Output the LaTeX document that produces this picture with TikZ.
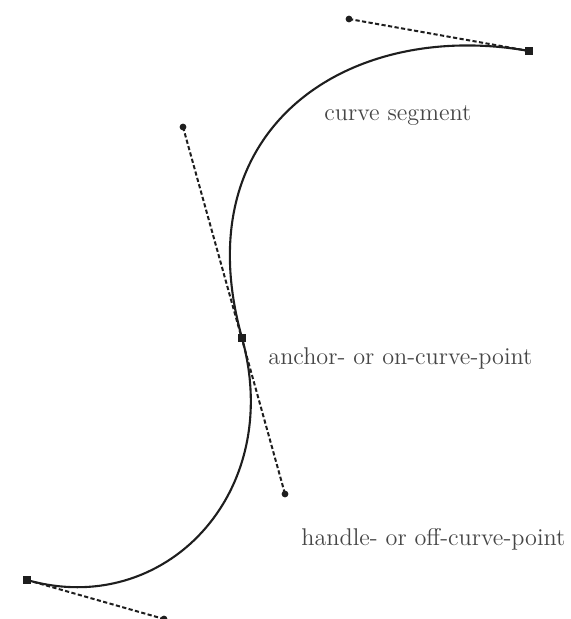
\documentclass[tikz,border=0pt]{standalone}
\usetikzlibrary{positioning}
\definecolor{labelgray}{RGB}{70, 70, 70}
\definecolor{curveblack}{RGB}{30, 30, 30}

\begin{document}
\begin{tikzpicture}[x=0.5pt, y=-0.5pt,
    anchorpt/.style={draw=none, fill=curveblack, rectangle, minimum size=4pt, inner sep=0pt},
    handlept/.style={draw=none, fill=curveblack, circle, minimum size=3.4pt, inner sep=0pt},
    handleline/.style={line width=1pt, curveblack, dash pattern=on 2.1pt off 1.2pt},
    curveline/.style={line width=1.05pt, curveblack},
    lbl/.style={anchor=west, inner sep=0pt, text=labelgray, font=\fontsize{12.1}{14}\selectfont}]
  \useasboundingbox (0,0) rectangle (570,619);

  % on-curve points
  \node[anchorpt] (a1) at (529,51) {};
  \node[anchorpt] (a2) at (242,338) {};
  \node[anchorpt] (a3) at (27,580) {};

  % off-curve points
  \node[handlept] (h1) at (349,19) {};
  \node[handlept] (h2) at (183,127) {};
  \node[handlept] (h3) at (285,494) {};
  \node[handlept] (h4) at (164,619) {};

  \draw[handleline] (h1.center) -- (a1.center);
  \draw[handleline] (h2.center) -- (h3.center);
  \draw[handleline] (a3.center) -- (h4.center);

  \draw[curveline] (a1.center) .. controls (h1.center) and (h2.center) .. (a2.center)
    .. controls (h3.center) and (h4.center) .. (a3.center);

  \node[lbl] (seglbl) at (324,116) {curve segment};
  \node[lbl] (anchorlbl) at (268,358) {anchor- or on-curve-point};
  \node[lbl] (handlelbl) at (301,539) {handle- or off-curve-point};
\end{tikzpicture}
\end{document}
